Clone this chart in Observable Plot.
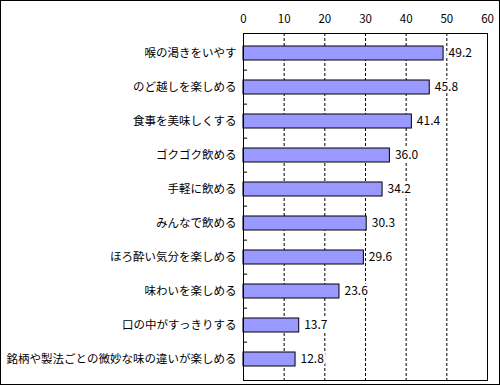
<!DOCTYPE html>
<html><head><meta charset="utf-8">
<script src="https://cdn.jsdelivr.net/npm/d3@7"></script>
<script src="https://cdn.jsdelivr.net/npm/@observablehq/plot@0.6"></script>
<style>
body{margin:0;background:#fff;}
#wrap{width:498px;height:383px;border:1px solid #000;background:#fff;}
</style></head>
<body><div id="wrap"></div>
<script>
const categories = [
  "喉の渇きをいやす",
  "のど越しを楽しめる",
  "食事を美味しくする",
  "ゴクゴク飲める",
  "手軽に飲める",
  "みんなで飲める",
  "ほろ酔い気分を楽しめる",
  "味わいを楽しめる",
  "口の中がすっきりする",
  "銘柄や製法ごとの微妙な味の違いが楽しめる"
];
const values = [49.2, 45.8, 41.4, 36.0, 34.2, 30.3, 29.6, 23.6, 13.7, 12.8];
const xTicks = [0, 10, 20, 30, 40, 50, 60];
const gridTicks = [10, 20, 30, 40, 50];

const data = categories.map((c, i) => ({label: c, value: values[i]}));
const W = 498, H = 383, mT = 32, mB = 4;
const step = (H - mT - mB) / categories.length;

const chart = Plot.plot({
  width: W, height: H,
  marginLeft: 242, marginRight: 12, marginTop: mT, marginBottom: mB,
  style: {fontFamily: "'Noto Sans CJK JP', sans-serif", fontSize: "11.5px", color: "#000", background: "#fff"},
  x: {domain: [0, 60], ticks: xTicks, axis: "top", tickSize: 0, tickPadding: 11, label: null, tickFormat: d => String(d)},
  y: {domain: categories, paddingInner: 0.58, paddingOuter: 0.29, tickSize: 0, tickPadding: 7, label: null},
  marks: [
    Plot.ruleX(gridTicks, {stroke: "#000", strokeDasharray: "3,2", strokeWidth: 1}),
    Plot.barX(data, {x: "value", y: "label", fill: "#9999FF", stroke: "#000", strokeWidth: 1}),
    Plot.text(data, {x: "value", y: "label", text: d => d.value.toFixed(1), dx: 5, textAnchor: "start", fontSize: 12, stroke: "#fff", strokeWidth: 5, fill: "#000", paintOrder: "stroke"}),
    Plot.ruleY(categories.slice(1), {y: d => d, x1: 0, x2: 1, dy: -step / 2, stroke: "#000"}),
    Plot.frame({stroke: "#000"})
  ]
});
document.getElementById("wrap").appendChild(chart);
</script></body></html>
